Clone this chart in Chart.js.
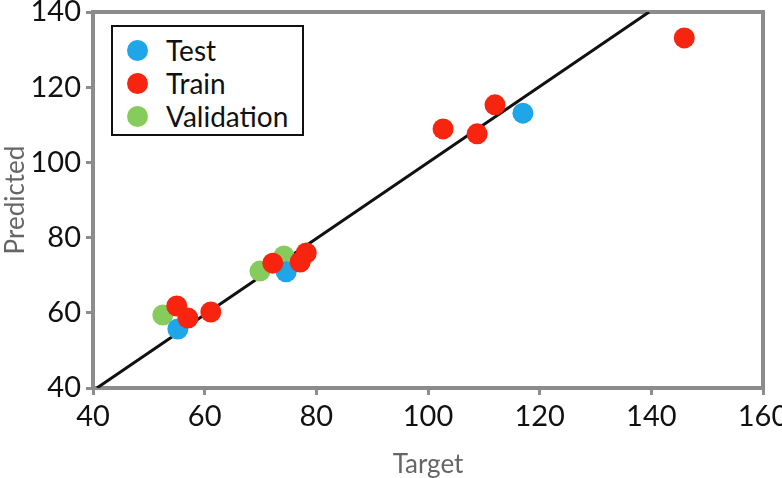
<!DOCTYPE html>
<html>
<head>
<meta charset="utf-8">
<script src="https://cdn.jsdelivr.net/npm/chart.js@4.4.0/dist/chart.umd.min.js"></script>
<style>
    body { margin: 0; background: #fff; }
    #wrap { position: relative; width: 782px; height: 478px; }
    #legend {
        position: absolute; left: 111px; top: 25px; width: 189px; height: 107px;
        border: 2px solid #111; background: #fff;
        font-family: Lato, "Noto Sans", sans-serif; font-size: 28px; color: #111;
    }
    .item { position: absolute; left: 0; height: 33px; line-height: 33px; }
    .dot { position: absolute; left: 14px; top: 6px; width: 21px; height: 21px; border-radius: 50%; }
    .lab { position: absolute; left: 53px; white-space: nowrap; }
</style>
</head>
<body>
<div id="wrap">
    <canvas id="chart" width="782" height="478"></canvas>
    <div id="legend"></div>
</div>
<script>
// values
var testX = [55.2, 74.6, 117.0];
var testY = [55.7, 70.9, 113.1];
var trainX = [55.0, 57.0, 61.1, 72.2, 77.1, 78.2, 102.7, 108.8, 112.0, 145.9];
var trainY = [61.8, 58.6, 60.2, 73.2, 73.5, 75.9, 108.9, 107.6, 115.3, 133.1];
var valX = [52.5, 69.9, 74.2];
var valY = [59.4, 71.1, 75.1];
var lineX = [40.7, 139.6]; // fit line
var lineY = [40, 140];

var xTicks = [40, 60, 80, 100, 120, 140, 160];
var yTicks = [40, 60, 80, 100, 120, 140];

var seriesNames = ["Test", "Train", "Validation"];
var seriesColors = ["#1ea6e8", "#f72410", "#86cc5c"];

function toPoints(xs, ys) {
    var pts = [];
    for (var i = 0; i < xs.length; i++) pts.push({x: xs[i], y: ys[i]});
    return pts;
}

var axisGray = "#8c8c8c";
var tickFont = {family: "Lato, 'Noto Sans', sans-serif", size: 29, lineHeight: 1.0};
var titleFont = {family: "Lato, 'Noto Sans', sans-serif", size: 26, lineHeight: 1.2};

// frame round the plot area
var framePlugin = {
    id: 'frame',
    beforeDatasetsDraw: function (chart) {
        var a = chart.chartArea, ctx = chart.ctx;
        ctx.save();
        ctx.strokeStyle = axisGray;
        ctx.lineWidth = 4;
        ctx.strokeRect(a.left, a.top, a.right - a.left, a.bottom - a.top);
        ctx.restore();
    }
};

var ctx = document.getElementById("chart");
var chart = new Chart(ctx, {
    type: 'scatter',
    data: {
        datasets: [{
                label: seriesNames[1],
                data: toPoints(trainX, trainY),
                backgroundColor: seriesColors[1],
                borderWidth: 0,
                pointRadius: 10.5,
                order: 0
            },
            {
                label: seriesNames[0],
                data: toPoints(testX, testY),
                backgroundColor: seriesColors[0],
                borderWidth: 0,
                pointRadius: 10.5,
                order: 1
            },
            {
                label: seriesNames[2],
                data: toPoints(valX, valY),
                backgroundColor: seriesColors[2],
                borderWidth: 0,
                pointRadius: 10.5,
                order: 2
            },
            {
                type: 'line',
                label: 'fit',
                data: toPoints(lineX, lineY),
                borderColor: "#111",
                borderWidth: 3,
                pointRadius: 0,
                fill: false,
                order: 3
            }
        ]
    },
    options: {
        responsive: false,
        animation: false,
        events: [],
        layout: {padding: {top: 12, right: 19, left: 0, bottom: 0}},
        plugins: {
            legend: {display: false},
            tooltip: {enabled: false}
        },
        scales: {
            x: {
                type: 'linear',
                min: 40,
                max: 160,
                afterBuildTicks: function (s) { s.ticks = xTicks.map(function (v) { return {value: v}; }); },
                afterFit: function (s) { s.height = 90; s.paddingLeft = 0; s.paddingRight = 0; },
                border: {display: false},
                grid: {drawOnChartArea: false, drawTicks: true, tickLength: 7, color: axisGray, lineWidth: 3},
                ticks: {color: "#111", font: tickFont, padding: 7, maxRotation: 0},
                title: {display: true, text: 'Target', color: "#666", font: titleFont, padding: {top: 0, bottom: -2}}
            },
            y: {
                type: 'linear',
                min: 40,
                max: 140,
                afterBuildTicks: function (s) { s.ticks = yTicks.map(function (v) { return {value: v}; }); },
                afterFit: function (s) { s.width = 93; s.paddingTop = 0; s.paddingBottom = 0; },
                border: {display: false},
                grid: {drawOnChartArea: false, drawTicks: true, tickLength: 7, color: axisGray, lineWidth: 3},
                ticks: {color: "#111", font: tickFont, padding: 5},
                title: {display: true, text: 'Predicted', color: "#666", font: titleFont, padding: 0}
            }
        }
    },
    plugins: [framePlugin]
});

// legend box, order as in the picture
var legend = document.getElementById("legend");
for (var i = 0; i < seriesNames.length; i++) {
    var item = document.createElement("div");
    item.className = "item";
    item.style.top = (7 + i * 33) + "px";
    item.innerHTML = '<span class="dot" style="background:' + seriesColors[i] + '"></span><span class="lab">' + seriesNames[i] + '</span>';
    legend.appendChild(item);
}
</script>
</body>
</html>
